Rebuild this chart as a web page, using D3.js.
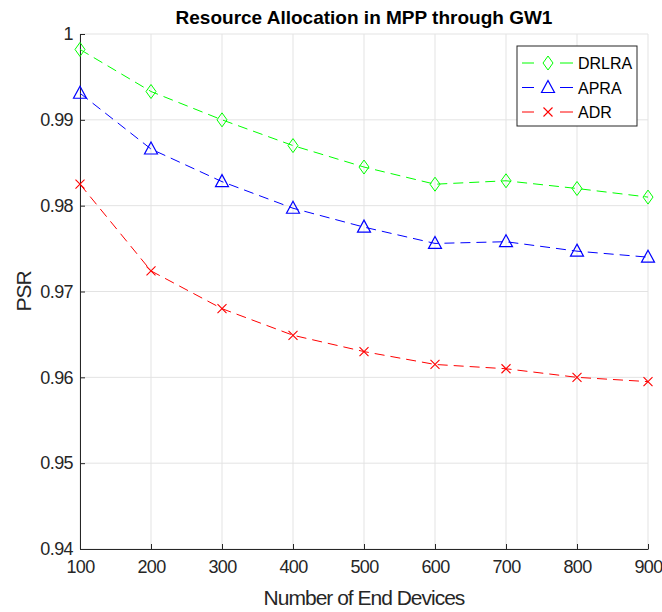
<!DOCTYPE html>
<html><head><meta charset="utf-8">
<script src="https://cdn.jsdelivr.net/npm/d3@7"></script>
<style>body{margin:0;background:#fff}svg{display:block;font-family:"Liberation Sans",Arial,sans-serif}</style>
</head><body>
<svg id="c" width="662" height="612"></svg>
<script>
const devices = [100,200,300,400,500,600,700,800,900];
const drlra = [0.9982,0.9933,0.9900,0.9870,0.9845,0.9825,0.9829,0.9820,0.9810];
const apra  = [0.9931,0.9866,0.9828,0.9797,0.9775,0.9756,0.9758,0.9747,0.9740];
const adr   = [0.9825,0.9724,0.9680,0.9649,0.9630,0.9615,0.9610,0.9600,0.9595];
const yTicks = [0.94,0.95,0.96,0.97,0.98,0.99,1];
const xTicks = [100,200,300,400,500,600,700,800,900];
const seriesNames = ["DRLRA","APRA","ADR"];
const seriesColors = ["#00ff00","#0000ff","#ff0000"];
const seriesMarkers = ["diamond","triangle","cross"];

const svg = d3.select("#c");
const m = {l:80, r:648, t:34, b:549};
const x = d3.scaleLinear().domain([100,900]).range([m.l,m.r]);
const y = d3.scaleLinear().domain([0.94,1]).range([m.b,m.t]);

// grid
const g = svg.append("g");
g.selectAll(".gx").data(xTicks).join("line")
  .attr("x1",d=>x(d)).attr("x2",d=>x(d)).attr("y1",m.t).attr("y2",m.b)
  .attr("stroke","#e3e3e3").attr("stroke-width",1);
g.selectAll(".gy").data(yTicks).join("line")
  .attr("x1",m.l).attr("x2",m.r).attr("y1",d=>y(d)).attr("y2",d=>y(d))
  .attr("stroke","#e3e3e3").attr("stroke-width",1);

// axes
const xAxis = d3.axisBottom(x).tickValues(xTicks).tickSizeInner(-5).tickSizeOuter(0).tickPadding(11).tickFormat(d3.format("d"));
const yAxis = d3.axisLeft(y).tickValues(yTicks).tickSizeInner(-5).tickSizeOuter(0).tickPadding(7).tickFormat(d=>d===1?"1":d3.format(".2f")(d));
const gx = svg.append("g").attr("transform",`translate(0,${m.b})`).call(xAxis);
const gy = svg.append("g").attr("transform",`translate(${m.l},0)`).call(yAxis);
[gx,gy].forEach(a=>{
  a.select(".domain").attr("stroke","#262626");
  a.selectAll(".tick line").attr("stroke","#262626");
  a.selectAll(".tick text").attr("fill","#262626").style("font-size","18px")
    .style("letter-spacing","-0.6px").style("font-family","'Liberation Sans',Arial,sans-serif");
});

// series
const sets = [drlra,apra,adr];
const line = d3.line().x((d,i)=>x(devices[i])).y(d=>y(d));
function marker(sel, type, color){
  if(type==="diamond"){
    sel.append("path").attr("d","M0,-7L5,0L0,7L-5,0Z").attr("fill","none").attr("stroke",color).attr("stroke-width",1);
  } else if(type==="triangle"){
    sel.append("path").attr("d","M0,-7L6.5,5L-6.5,5Z").attr("fill","none").attr("stroke",color).attr("stroke-width",1.2);
  } else {
    sel.append("path").attr("d","M-4.5,-4.5L4.5,4.5M-4.5,4.5L4.5,-4.5").attr("fill","none").attr("stroke",color).attr("stroke-width",1.1);
  }
}
sets.forEach((s,k)=>{
  svg.append("path").datum(s).attr("d",line).attr("fill","none")
    .attr("stroke",seriesColors[k]).attr("stroke-width",1).attr("stroke-dasharray","10,6");
  s.forEach((v,i)=>{
    const mg = svg.append("g").attr("transform",`translate(${x(devices[i])},${y(v)})`);
    marker(mg, seriesMarkers[k], seriesColors[k]);
  });
});

// title and labels
svg.append("text").attr("x",(m.l+m.r)/2).attr("y",24).attr("text-anchor","middle")
  .style("font-size","19px").style("font-weight","bold").attr("fill","#000")
  .text("Resource Allocation in MPP through GW1");
svg.append("text").attr("x",(m.l+m.r)/2).attr("y",605).attr("text-anchor","middle")
  .style("font-size","21px").style("letter-spacing","-1px").attr("fill","#262626").text("Number of End Devices");
svg.append("text").attr("transform",`translate(31,${(m.t+m.b)/2}) rotate(-90)`).attr("text-anchor","middle")
  .style("font-size","21px").style("letter-spacing","-1px").attr("fill","#262626").text("PSR");

// legend
const lg = svg.append("g").attr("transform","translate(517,46)");
lg.append("rect").attr("x",0).attr("y",0).attr("width",120).attr("height",80)
  .attr("fill","#fff").attr("stroke","#262626").attr("stroke-width",1);
seriesNames.forEach((n,k)=>{
  const yy = 17 + k*24.5;
  const c = seriesColors[k];
  lg.append("line").attr("x1",5).attr("x2",17).attr("y1",yy).attr("y2",yy).attr("stroke",c);
  lg.append("line").attr("x1",43).attr("x2",56).attr("y1",yy).attr("y2",yy).attr("stroke",c);
  marker(lg.append("g").attr("transform",`translate(31,${yy})`), seriesMarkers[k], c);
  lg.append("text").attr("x",61).attr("y",yy+6).style("font-size","16px").attr("fill","#000").text(n);
});
</script>
</body></html>
